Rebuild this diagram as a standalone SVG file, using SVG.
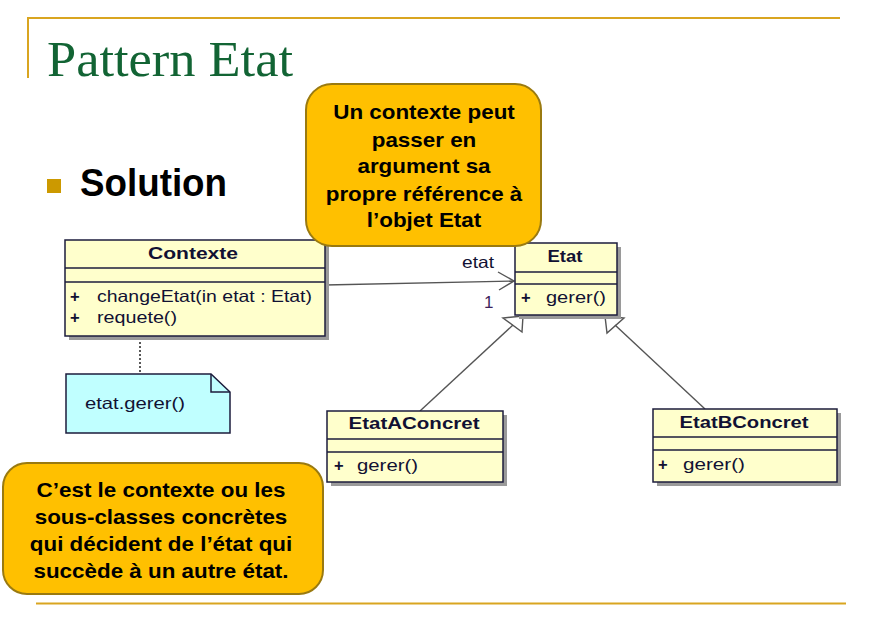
<svg xmlns="http://www.w3.org/2000/svg" width="890" height="617" viewBox="0 0 890 617">
<style>
.cls{fill:#ffffcc;stroke:#1c1c3c;stroke-width:1.5}
.shd{fill:#9a9a9a}
.sep{stroke:#1c1c3c;stroke-width:1.5}
.t{font-family:"Liberation Sans",Arial,sans-serif;font-size:16.5px;fill:#111133}
.p{font-family:"Liberation Sans",Arial,sans-serif;font-size:16.5px;font-weight:bold;fill:#111133}
.tb{font-family:"Liberation Sans",Arial,sans-serif;font-size:16.5px;font-weight:bold;fill:#111133}
.call{fill:#ffc000;stroke:#9a7a10;stroke-width:2}
.ct{font-family:"Liberation Sans",Arial,sans-serif;font-size:20px;font-weight:bold;fill:#000;text-anchor:middle}
.conn{stroke:#555;stroke-width:1.4;fill:none}
.gold{stroke:#d9a520;stroke-width:2;fill:none}
</style>
<rect width="890" height="617" fill="#fff"/>
<g id="frame">
<path class="gold" d="M28,78 L28,18 L840,18"/>
<line class="gold" x1="36" y1="603.5" x2="846" y2="603.5"/>
<text x="47" y="76" font-family="'Liberation Serif',serif" font-size="50" fill="#126434" textLength="246" lengthAdjust="spacingAndGlyphs">Pattern Etat</text>
<rect x="47" y="179" width="14" height="14" fill="#cc9900"/>
<text x="80" y="196" font-family="'Liberation Sans',Arial,sans-serif" font-size="38" font-weight="bold" fill="#000" textLength="147" lengthAdjust="spacingAndGlyphs">Solution</text>
</g>
<g id="connectors">
<line class="conn" x1="325" y1="285" x2="514" y2="281"/>
<path class="conn" d="M498,272 L514,281 L499,290"/>
<line x1="140" y1="338" x2="140" y2="374" stroke="#222" stroke-width="1.5" stroke-dasharray="2,2"/>
<line class="conn" x1="420" y1="411" x2="513" y2="325"/>
<path class="conn" d="M523,316 L503,318 L522,332 Z" fill="#fff"/>
<line class="conn" x1="705" y1="409" x2="615" y2="325"/>
<path class="conn" d="M605,316 L624,318 L607,333 Z" fill="#fff"/>
<text x="462" y="268" class="t" textLength="32" lengthAdjust="spacingAndGlyphs">etat</text>
<text x="484" y="308" font-family="'Liberation Sans',Arial,sans-serif" font-size="17" fill="#3d1f5c">1</text>
</g>
<g id="contexte">
<rect class="shd" x="69" y="244" width="260" height="96"/>
<rect class="cls" x="65" y="240" width="260" height="96"/>
<line class="sep" x1="65" y1="268" x2="325" y2="268"/>
<line class="sep" x1="65" y1="282" x2="325" y2="282"/>
<text class="tb" x="193" y="259" text-anchor="middle" textLength="90" lengthAdjust="spacingAndGlyphs">Contexte</text>
<text class="p" x="70" y="302">+</text>
<text class="t" x="97" y="302" textLength="215" lengthAdjust="spacingAndGlyphs">changeEtat(in etat : Etat)</text>
<text class="p" x="70" y="323">+</text>
<text class="t" x="97" y="323" textLength="80" lengthAdjust="spacingAndGlyphs">requete()</text>
</g>
<g id="etat">
<rect class="shd" x="519" y="247" width="102" height="72"/>
<rect class="cls" x="515" y="243" width="102" height="72"/>
<line class="sep" x1="515" y1="272" x2="617" y2="272"/>
<line class="sep" x1="515" y1="284" x2="617" y2="284"/>
<text class="tb" x="565" y="262" text-anchor="middle" textLength="35" lengthAdjust="spacingAndGlyphs">Etat</text>
<text class="p" x="521" y="303">+</text>
<text class="t" x="546" y="303" textLength="60" lengthAdjust="spacingAndGlyphs">gerer()</text>
</g>
<g id="etatAConcret">
<rect class="shd" x="331" y="415" width="176" height="71"/>
<rect class="cls" x="327" y="411" width="176" height="71"/>
<line class="sep" x1="327" y1="439" x2="503" y2="439"/>
<line class="sep" x1="327" y1="452" x2="503" y2="452"/>
<text class="tb" x="414" y="429" text-anchor="middle" textLength="131" lengthAdjust="spacingAndGlyphs">EtatAConcret</text>
<text class="p" x="334" y="471">+</text>
<text class="t" x="357" y="471" textLength="61" lengthAdjust="spacingAndGlyphs">gerer()</text>
</g>
<g id="etatBConcret">
<rect class="shd" x="657" y="413" width="184" height="73"/>
<rect class="cls" x="653" y="409" width="184" height="73"/>
<line class="sep" x1="653" y1="437" x2="837" y2="437"/>
<line class="sep" x1="653" y1="450" x2="837" y2="450"/>
<text class="tb" x="744" y="428" text-anchor="middle" textLength="129" lengthAdjust="spacingAndGlyphs">EtatBConcret</text>
<text class="p" x="658" y="470">+</text>
<text class="t" x="683" y="470" textLength="62" lengthAdjust="spacingAndGlyphs">gerer()</text>
</g>
<g id="note">
<path d="M66,374 L211,374 L230,392 L230,433 L66,433 Z" fill="#c0ffff" stroke="#1c1c3c" stroke-width="1.5"/>
<path d="M211,374 L211,392 L230,392" fill="none" stroke="#1c1c3c" stroke-width="1.5"/>
<text class="t" x="85" y="409" textLength="100" lengthAdjust="spacingAndGlyphs">etat.gerer()</text>
</g>
<g id="callout1">
<rect class="call" x="306" y="84" width="235" height="162" rx="26"/>
<text class="ct" transform="translate(424,119) scale(1.12,1)">Un contexte peut</text>
<text class="ct" transform="translate(424,147) scale(1.12,1)">passer en</text>
<text class="ct" transform="translate(424,173) scale(1.12,1)">argument sa</text>
<text class="ct" transform="translate(424,201) scale(1.12,1)">propre référence à</text>
<text class="ct" transform="translate(424,227) scale(1.12,1)">l’objet Etat</text>
</g>
<g id="callout2">
<rect class="call" x="3" y="463" width="320" height="131" rx="24"/>
<text class="ct" transform="translate(161,497) scale(1.12,1)">C’est le contexte ou les</text>
<text class="ct" transform="translate(161,524) scale(1.12,1)">sous-classes concrètes</text>
<text class="ct" transform="translate(161,551) scale(1.12,1)">qui décident de l’état qui</text>
<text class="ct" transform="translate(161,578) scale(1.12,1)">succède à un autre état.</text>
</g>
</svg>
